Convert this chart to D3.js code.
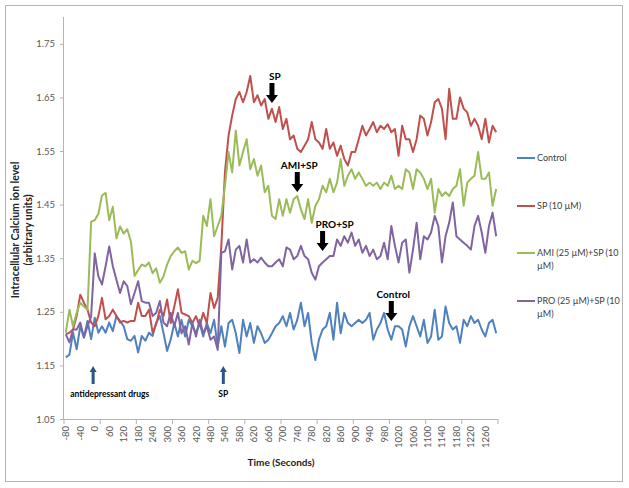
<!DOCTYPE html>
<html><head><meta charset="utf-8">
<script src="https://cdn.jsdelivr.net/npm/d3@7"></script>
<style>
html,body{margin:0;padding:0;background:#fff;}
svg{display:block;font-family:Lato,"Open Sans",sans-serif;}
</style></head>
<body><svg id="chart" width="629" height="488"></svg>
<script>
// ---- data ----
const timeLabels = [-80,-40,0,60,120,180,240,300,360,420,480,540,580,620,660,700,740,780,820,860,900,940,980,1020,1060,1100,1140,1180,1220,1260];
const labelEvery = 4;      // one label every 4 time points
const tickEvery = 10;      // one axis tick every 10 time points
const yTicks = [1.05,1.15,1.25,1.35,1.45,1.55,1.65,1.75];
const yDomain = [1.05, 1.80];

const seriesNames = ["Control","SP (10 \u00b5M)","AMI (25 \u00b5M)+SP (10 \u00b5M)","PRO (25 \u00b5M)+SP (10 \u00b5M)"];
const legendLines = [["Control"],["SP (10 \u00b5M)"],["AMI (25 \u00b5M)+SP (10","\u00b5M)"],["PRO (25 \u00b5M)+SP (10","\u00b5M)"]];
const colors = ["#4F81BD","#C0504D","#9BBB59","#8064A2"];

const control = [1.165,1.170,1.211,1.180,1.223,1.202,1.233,1.199,1.239,1.211,1.223,1.211,1.230,1.214,1.242,1.233,1.223,1.199,1.196,1.205,
1.174,1.205,1.196,1.211,1.205,1.230,1.242,1.211,1.177,1.198,1.229,1.204,1.235,1.204,1.235,1.223,1.210,1.229,1.204,1.229,
1.210,1.235,1.185,1.223,1.185,1.229,1.235,1.210,1.173,1.235,1.204,1.229,1.192,1.223,1.210,1.192,1.198,1.210,1.223,1.229,
1.242,1.223,1.248,1.217,1.235,1.267,1.223,1.248,1.192,1.160,1.198,1.217,1.223,1.248,1.198,1.267,1.210,1.248,1.229,1.223,
1.229,1.235,1.229,1.235,1.248,1.198,1.217,1.229,1.248,1.217,1.198,1.223,1.223,1.217,1.185,1.223,1.242,1.223,1.204,1.235,
1.192,1.204,1.254,1.198,1.204,1.260,1.229,1.217,1.223,1.192,1.235,1.223,1.242,1.229,1.235,1.217,1.204,1.229,1.235,1.210];

const sp = [1.208,1.211,1.217,1.242,1.282,1.267,1.254,1.230,1.223,1.242,1.276,1.236,1.242,1.254,1.242,1.230,1.233,1.230,1.233,1.233,
1.267,1.242,1.242,1.254,1.211,1.227,1.254,1.242,1.273,1.229,1.260,1.292,1.248,1.245,1.242,1.229,1.242,1.223,1.248,1.229,
1.285,1.257,1.276,1.373,1.510,1.579,1.616,1.647,1.660,1.641,1.660,1.690,1.641,1.654,1.635,1.647,1.610,1.629,1.604,1.632,
1.591,1.610,1.572,1.579,1.554,1.548,1.560,1.572,1.604,1.572,1.566,1.554,1.591,1.554,1.566,1.541,1.560,1.535,1.523,1.548,
1.548,1.572,1.597,1.579,1.591,1.604,1.585,1.597,1.591,1.600,1.585,1.591,1.541,1.597,1.572,1.572,1.548,1.572,1.616,1.610,
1.579,1.604,1.641,1.647,1.629,1.572,1.666,1.610,1.610,1.650,1.629,1.622,1.597,1.610,1.597,1.572,1.610,1.566,1.597,1.585];

const ami = [1.211,1.254,1.223,1.248,1.267,1.260,1.254,1.418,1.421,1.433,1.467,1.472,1.421,1.446,1.387,1.409,1.396,1.404,1.381,1.317,
1.328,1.338,1.335,1.342,1.322,1.331,1.304,1.316,1.338,1.354,1.363,1.370,1.360,1.363,1.329,1.345,1.341,1.345,1.429,1.410,
1.460,1.391,1.410,1.429,1.485,1.548,1.510,1.588,1.523,1.548,1.572,1.516,1.535,1.504,1.523,1.473,1.485,1.429,1.423,1.460,
1.429,1.460,1.435,1.460,1.466,1.441,1.423,1.460,1.416,1.448,1.460,1.485,1.473,1.498,1.473,1.491,1.535,1.485,1.504,1.516,
1.498,1.510,1.498,1.485,1.491,1.485,1.491,1.479,1.491,1.485,1.504,1.479,1.485,1.479,1.516,1.510,1.479,1.516,1.510,1.498,
1.479,1.498,1.435,1.479,1.466,1.473,1.466,1.479,1.485,1.516,1.448,1.491,1.498,1.504,1.548,1.498,1.498,1.510,1.448,1.479];

const pro = [1.208,1.193,1.217,1.217,1.230,1.202,1.223,1.242,1.359,1.316,1.301,1.335,1.372,1.335,1.310,1.285,1.307,1.298,1.264,1.285,
1.307,1.270,1.267,1.267,1.242,1.248,1.270,1.230,1.223,1.248,1.223,1.248,1.210,1.223,1.189,1.229,1.204,1.235,1.210,1.223,
1.198,1.204,1.179,1.360,1.363,1.385,1.329,1.366,1.373,1.342,1.385,1.342,1.348,1.342,1.351,1.342,1.335,1.335,1.342,1.348,
1.335,1.370,1.366,1.348,1.354,1.373,1.354,1.348,1.323,1.310,1.335,1.342,1.348,1.354,1.354,1.385,1.373,1.391,1.379,1.398,
1.373,1.385,1.360,1.373,1.354,1.366,1.348,1.354,1.379,1.348,1.410,1.373,1.342,1.379,1.385,1.323,1.366,1.416,1.348,1.391,
1.385,1.398,1.429,1.410,1.342,1.391,1.416,1.454,1.391,1.385,1.379,1.373,1.366,1.410,1.429,1.398,1.360,1.410,1.435,1.391];

const series = [control, sp, ami, pro];

// annotations: label text, category index of the arrow
const topNotes = [
  {text:"SP", i:57, ty:80, dx:3},
  {text:"AMI+SP", i:64, ty:169, dx:2},
  {text:"PRO+SP", i:71, ty:228, dx:12},
  {text:"Control", i:90, ty:298, dx:2}
];
const bottomNotes = [
  {text:"antidepressant drugs", i:7, anchor:"start", dx:-23},
  {text:"SP", i:43, anchor:"middle", dx:0}
];

// ---- drawing ----
const svg = d3.select("#chart");
const pLeft = 64, pRight = 498, pTop = 17, pBottom = 419;
const n = control.length;

svg.append("rect").attr("x",5.5).attr("y",5.5).attr("width",617).attr("height",476)
  .attr("fill","#fff").attr("stroke","#b5b5b5").attr("stroke-width",1);

const x = d3.scaleBand().domain(d3.range(n)).range([pLeft, pRight]).padding(0);
const xc = i => x(i) + x.bandwidth()/2;
const y = d3.scaleLinear().domain(yDomain).range([pBottom, pTop]);

const axisColor = "#b3b3b3", labelColor = "#595959";

// y axis
const yAxis = d3.axisLeft(y).tickValues(yTicks).tickFormat(d3.format(".2f")).tickSize(4).tickPadding(5);
const gy = svg.append("g").attr("transform",`translate(${pLeft},0)`).call(yAxis);
gy.select(".domain").attr("stroke",axisColor).attr("d",`M-0.5,${pTop}V${pBottom}`);
gy.selectAll(".tick line").attr("stroke",axisColor);
gy.selectAll(".tick text").attr("fill",labelColor).attr("font-size","9.5px").attr("font-family","Lato");

// x axis: line, ticks every 10 points, labels every 4 points
const gx = svg.append("g").attr("transform",`translate(0,${pBottom})`);
gx.append("line").attr("x1",pLeft).attr("x2",pRight).attr("y1",0.5).attr("y2",0.5).attr("stroke",axisColor);
const tickIdx = d3.range(0, n+1, tickEvery);
gx.selectAll("line.t").data(tickIdx).join("line").attr("class","t")
  .attr("x1",d => (d<n? x(d): pRight)).attr("x2",d => (d<n? x(d): pRight))
  .attr("y1",0).attr("y2",5).attr("stroke",axisColor);
gx.selectAll("text.lab").data(timeLabels).join("text").attr("class","lab")
  .attr("transform",(d,k)=>`translate(${xc(k*labelEvery)+3.5},7) rotate(-90)`)
  .attr("text-anchor","end").attr("font-size","9.5px").attr("fill",labelColor)
  .text(d => d);

// axis titles
svg.append("text").attr("x",(pLeft+pRight)/2).attr("y",466).attr("text-anchor","middle")
  .attr("font-size","10px").attr("font-weight","bold").attr("fill","#222").text("Time (Seconds)");
const yt = svg.append("text").attr("transform","translate(19,230) rotate(-90)").attr("text-anchor","middle")
  .attr("font-size","10.5px").attr("font-weight","bold").attr("fill","#222");
yt.append("tspan").attr("x",0).attr("dy",0).text("Intracellular Calcium ion level");
yt.append("tspan").attr("x",0).attr("dy",12.5).text("(arbitrary units)");

// lines
const line = d3.line().x((d,i)=>xc(i)).y(d=>y(d));
svg.append("g").selectAll("path").data(series).join("path")
  .attr("d", d=>line(d)).attr("fill","none")
  .attr("stroke",(d,k)=>colors[k]).attr("stroke-width",2).attr("stroke-linejoin","round");

// black annotation arrows (downward)
function downArrow(cx, y0){
  const p = `M${cx-2.5},${y0} L${cx+2.5},${y0} L${cx+2.5},${y0+12} L${cx+6},${y0+12} L${cx},${y0+20} L${cx-6},${y0+12} L${cx-2.5},${y0+12} Z`;
  svg.append("path").attr("d",p).attr("fill","#000");
}
topNotes.forEach(a=>{
  const cx = xc(a.i);
  svg.append("text").attr("x",cx + a.dx).attr("y",a.ty).attr("text-anchor","middle")
    .attr("font-size","10px").attr("font-weight","bold").attr("fill","#000").text(a.text);
  downArrow(cx, a.ty+3);
});

// blue up arrows with labels
bottomNotes.forEach(a=>{
  const cx = xc(a.i) + 2;
  svg.append("path").attr("d",`M${cx-1.5},384 L${cx+1.5},384 L${cx+1.5},372 L${cx+3.5},372 L${cx},366 L${cx-3.5},372 L${cx-1.5},372 Z`)
    .attr("fill","#2C5686");
  svg.append("text").attr("x",cx + a.dx).attr("y",397).attr("text-anchor",a.anchor)
    .attr("font-size","8.5px").attr("font-weight","bold").attr("fill","#000").text(a.text);
});

// legend
const legY = [158, 206, 253, 301];
const lg = svg.append("g");
legendLines.forEach((lines,k)=>{
  lg.append("line").attr("x1",517).attr("x2",535).attr("y1",legY[k]).attr("y2",legY[k])
    .attr("stroke",colors[k]).attr("stroke-width",2);
  lines.forEach((t,j)=>{
    lg.append("text").attr("x",537).attr("y",legY[k]+3+j*12.5).attr("font-size","9px")
      .attr("fill","#404040").text(t);
  });
});
</script>
</body></html>
